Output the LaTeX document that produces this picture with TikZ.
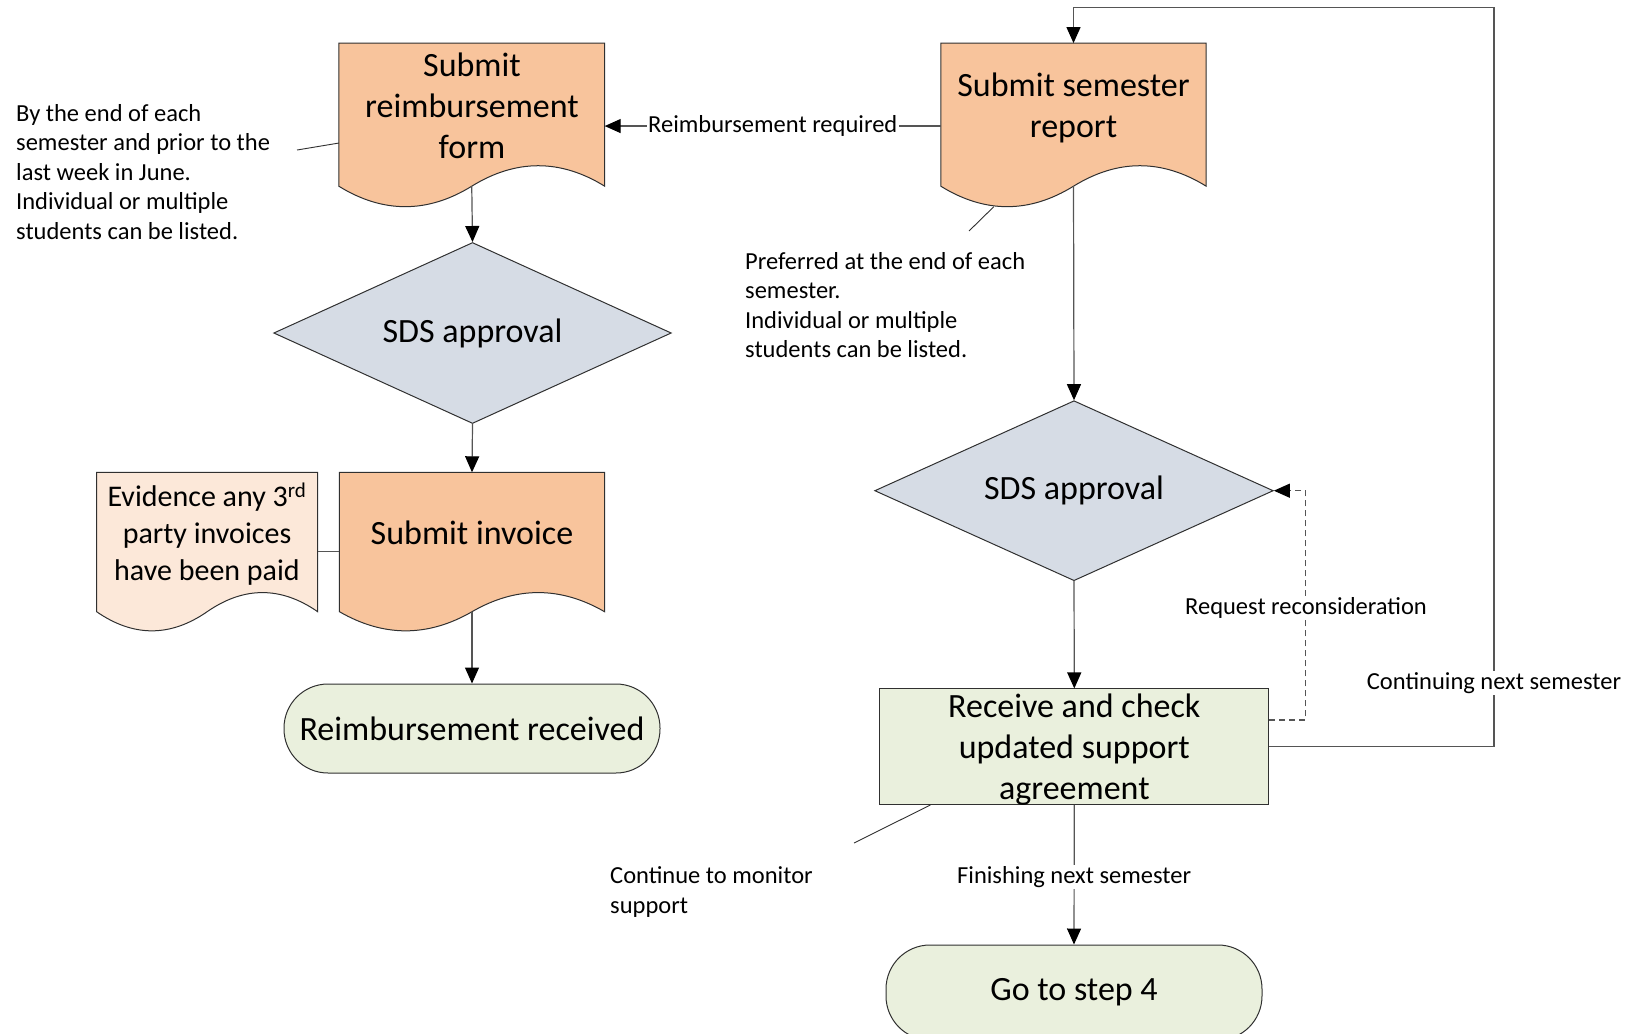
\documentclass[tikz,border=0pt]{standalone}
\usepackage{fontspec}
\setmainfont{Carlito}
\usetikzlibrary{arrows.meta,shapes.geometric,calc}

\definecolor{docfill}{HTML}{F8C49C}
\definecolor{notefill}{HTML}{FCE8D9}
\definecolor{decfill}{HTML}{D6DCE5}
\definecolor{endfill}{HTML}{EAF0DD}
\definecolor{edge}{HTML}{303030}
\definecolor{wire}{HTML}{555555}

\newcommand\bigfont{\fontsize{34}{41}\selectfont}
\newcommand\midfont{\fontsize{30}{36.7}\selectfont}
\newcommand\smallfont{\fontsize{24.5}{29.5}\selectfont}

% document symbol: straight top and sides, wavy bottom (trough left, crest right)
% #1 body node, #2 fill, #3 sixth of the width, #4 arch control height
\newcommand\wavedoc[4]{%
  \path[draw=edge, line width=1pt, fill=#2]
    (#1.north west) -- (#1.north east) -- (#1.south east)
    .. controls ($(#1.south east)+(-#3,-#4)$) and ($(#1.south)+(#3,-#4)$) .. (#1.south)
    .. controls ($(#1.south)+(-#3,#4)$) and ($(#1.south west)+(#3,#4)$) .. (#1.south west)
    -- cycle;}

\tikzset{
  docbody/.style={rectangle, draw=none, inner sep=0pt},
  shapetext/.style={inner sep=0pt, align=center, font=\bigfont},
  decision/.style={diamond, aspect=2.2, draw=edge, fill=decfill, line width=1pt,
    inner sep=0pt, font=\bigfont},
  terminal/.style={rectangle, rounded corners=44pt, draw=edge, fill=endfill,
    line width=1pt, minimum width=376pt, font=\bigfont},
  process/.style={rectangle, draw=edge, fill=endfill, line width=1pt,
    minimum width=388.7pt, minimum height=115.5pt},
  note/.style={inner sep=0pt, align=left, font=\smallfont},
  flow/.style={draw=wire, line width=1.2pt,
    -{Triangle[length=16pt,width=14pt,color=black]}},
  link/.style={draw=wire, line width=1.2pt},
  pointer/.style={draw=edge, line width=0.9pt},
  retry/.style={draw=wire, line width=1.2pt, dash pattern=on 6pt off 4pt,
    -{Triangle[length=16pt,width=14pt,color=black]}},
  tag/.style={fill=white, inner sep=1.5pt, font=\smallfont},
}

\begin{document}
\begin{tikzpicture}[x=1pt, y=-1pt]
\useasboundingbox (0,0) rectangle (1632,1033);

% ---------- left column: reimbursement ----------
\node[docbody, minimum width=265.5pt, minimum height=142.7pt] (doc1) at (471.75,114.65) {};
\wavedoc{doc1}{docfill}{44.2}{27.3}
\node[shapetext] (doc1txt) at (472,106) {Submit\\reimbursement\\form};

\node[decision, minimum width=397.6pt, minimum height=181pt] (dia1) at (472.5,333) {SDS approval};

\node[docbody, minimum width=264.7pt, minimum height=139pt] (doc2) at (472,542) {};
\wavedoc{doc2}{docfill}{44.1}{25.5}
\node[shapetext] (doc2txt) at (472,533) {Submit invoice};

\node[docbody, minimum width=220.7pt, minimum height=139pt] (doc3) at (207.15,542) {};
\wavedoc{doc3}{notefill}{36.8}{25.5}
\node[shapetext, font=\midfont] (doc3txt) at (207,534) {Evidence any 3\textsuperscript{rd}\\party invoices\\have been paid};

\node[terminal, minimum height=89pt] (end1) at (472,728.5) {Reimbursement received};

\node[note, anchor=west] (note1) at (16,171.7) {By the end of each\\semester and prior to the\\last week in June.\\Individual or multiple\\students can be listed.};
\coordinate (note1tip) at (297,150);

% ---------- right column: semester report ----------
\node[docbody, minimum width=265pt, minimum height=142.7pt] (doc4) at (1073.5,114.65) {};
\wavedoc{doc4}{docfill}{44.2}{27.3}
\node[shapetext] (doc4txt) at (1073.5,108) {Submit semester\\report};

\node[decision, minimum width=398.6pt, minimum height=180pt] (dia2) at (1074,490.7) {SDS approval};

\node[process] (box) at (1074.3,746.7) {};
\node[shapetext] (boxtxt) at (1074.3,749.5) {Receive and check\\updated support\\agreement};

\node[terminal, minimum height=95pt] (end2) at (1074,992.5) {Go to step 4};

\node[note, anchor=west] (note2) at (745,305) {Preferred at the end of each\\semester.\\Individual or multiple\\students can be listed.};
\coordinate (note2tip) at (969,231);

\node[note, anchor=west] (note3) at (610,892) {Continue to monitor\\support};
\coordinate (note3tip) at (854,843);

% routing corners
\coordinate (loopc) at (1494,7.3);
\coordinate (retryc) at (1305.6,490.7);

% ---------- connectors ----------
\draw[flow] (doc1.south) -- (dia1.north);
\draw[flow] (dia1.south) -- (doc2.north);
\draw[flow] (doc2.south) -- (end1.north);
\draw[link] ([yshift=-9.7pt]doc3.east) -- ([yshift=-9.7pt]doc2.west);

\draw[flow] ([yshift=-11.4pt]doc4.west) -- node[tag, pos=0.5] (lblreq) {Reimbursement required} ([yshift=-11.4pt]doc1.east);

\draw[flow] (doc4.south) -- (dia2.north);
\draw[flow] (dia2.south) -- (box.north);
\draw[flow] (box.south) -- node[tag, pos=0.516] (lblfin) {Finishing next semester} (end2.north);

\draw[flow] (box.east) -| (loopc) -| (doc4.north);
\node[tag] (lblcont) at (1494,683) {Continuing next semester};

\draw[retry] ([yshift=26.7pt]box.east) -| (retryc) -- (dia2.east);
\node[tag] (lblreq2) at (1306,608) {Request reconsideration};

% annotation leaders
\draw[pointer] (note1tip) -- ([yshift=-28.4pt]doc1.west);
\draw[pointer] (note2tip) -- ($(doc4.south west)+(53,20.5)$);
\draw[pointer] (note3tip) -- ($(box.south west)+(51,0)$);
\end{tikzpicture}
\end{document}
